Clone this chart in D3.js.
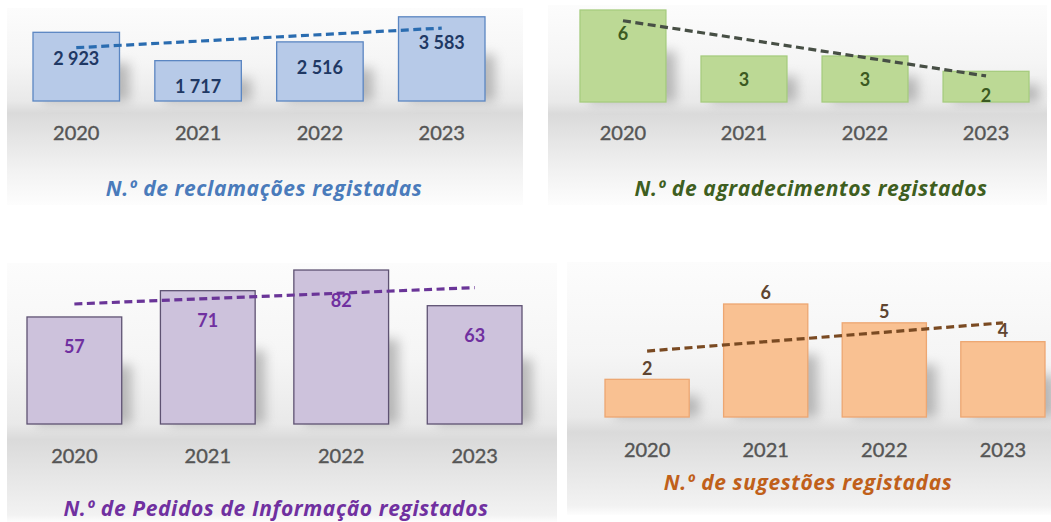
<!DOCTYPE html>
<html>
<head>
<meta charset="utf-8">
<script src="https://cdn.jsdelivr.net/npm/d3@7"></script>
<style>
  body { margin: 0; background: #fff; }
  svg { display: block; font-family: Lato, "Open Sans", sans-serif; }
</style>
</head>
<body>
<div id="chart"></div>
<script>
const years = ["2020", "2021", "2022", "2023"]

const reclamacoes = [2923, 1717, 2516, 3583]
const agradecimentos = [6, 3, 3, 2]
const pedidosInfo = [57, 71, 82, 63]
const sugestoes = [2, 6, 5, 4]

const titles = [
  "N.º de reclamações registadas",
  "N.º de agradecimentos registados",
  "N.º de Pedidos de Informação registados",
  "N.º de sugestões registadas"
]

const width = 1051
const height = 522

const pt = d3.formatLocale({ decimal: ",", thousands: " ", grouping: [3], currency: ["", "€"] }).format(",d")

// layout of each panel (positions only, values come from arrays above)
const panels = [
  { values: reclamacoes, title: titles[0], bg: [7, 8, 516, 197], xr: [33, 485], base: 101, top: 7, yMax: 4000,
    fill: "#b7cae8", stroke: "#5b86c2", label: "#1f3864", trend: "#2a6cb0", titleColor: "#4a7bbb",
    labelOff: 26, yearY: 133, titleX: 264, titleY: 188 },
  { values: agradecimentos, title: titles[1], bg: [548, 5, 499, 200], xr: [580, 1029], base: 102, top: 10, yMax: 6,
    fill: "#bcd995", stroke: "#a6cc7e", label: "#3b5a22", trend: "#474f45", titleColor: "#3e5e20",
    labelOff: 24, yearY: 133, titleX: 811, titleY: 188 },
  { values: pedidosInfo, title: titles[2], bg: [7, 263, 550, 259], xr: [27, 522], base: 424, top: 255, yMax: 90,
    fill: "#cdc2dc", stroke: "#5e5272", label: "#7030a0", trend: "#6a3598", titleColor: "#7030a0",
    labelOff: 30, yearY: 456, titleX: 276, titleY: 508 },
  { values: sugestoes, title: titles[3], bg: [567, 262, 484, 253], xr: [605, 1045], base: 417, top: 304, yMax: 6,
    fill: "#f9c192", stroke: "#eda772", label: "#5f4530", trend: "#7a4a22", titleColor: "#c0601a",
    labelOff: -11, yearY: 450, titleX: 808, titleY: 482 }
]

const svg = d3.select("#chart").append("svg")
  .attr("width", width)
  .attr("height", height)

const defs = svg.append("defs")

const blur = defs.append("filter").attr("id", "shadow")
  .attr("x", "-50%").attr("y", "-50%").attr("width", "200%").attr("height", "200%")
blur.append("feGaussianBlur").attr("stdDeviation", 6)

function regression(vals) {
  const mx = d3.mean(vals, (d, i) => i)
  const my = d3.mean(vals)
  let num = 0, den = 0
  vals.forEach((v, i) => { num += (i - mx) * (v - my); den += (i - mx) * (i - mx) })
  const slope = num / den
  return vals.map((v, i) => my + slope * (i - mx))
}

panels.forEach((p, k) => {
  const g = svg.append("g")

  // background gradient band
  const grad = defs.append("linearGradient").attr("id", "bg" + k)
    .attr("x1", 0).attr("y1", 0).attr("x2", 0).attr("y2", 1)
  const frac = (p.base - p.bg[1]) / p.bg[3]
  const stops = [
    [0, "#fcfcfc"], [frac * 0.6, "#f5f5f5"], [frac, "#e9e9e9"], [frac + 0.06, "#dadada"],
    [frac + 0.2, "#e6e6e6"], [frac + 0.35, "#f2f2f2"], [1, "#fdfdfd"]
  ]
  stops.forEach(s => grad.append("stop").attr("offset", Math.min(1, s[0])).attr("stop-color", s[1]))

  g.append("rect")
    .attr("x", p.bg[0]).attr("y", p.bg[1])
    .attr("width", p.bg[2]).attr("height", p.bg[3])
    .attr("fill", `url(#bg${k})`)

  const x = d3.scaleBand().domain(years).range(p.xr).paddingInner(0.29).paddingOuter(0)
  const y = d3.scaleLinear().domain([0, p.yMax]).range([p.base, p.top])

  const data = years.map((yr, i) => ({ year: yr, value: p.values[i] }))

  // soft shadow to the right of each bar
  g.append("g").selectAll("rect").data(data).join("rect")
    .attr("x", d => x(d.year) + 10)
    .attr("y", d => y(d.value) + (p.base - y(d.value)) * 0.45)
    .attr("width", x.bandwidth())
    .attr("height", d => (p.base - y(d.value)) * 0.55)
    .attr("fill", "#8a8a8a")
    .attr("opacity", 0.55)
    .attr("filter", "url(#shadow)")

  g.append("g").selectAll("rect").data(data).join("rect")
    .attr("x", d => x(d.year))
    .attr("y", d => y(d.value))
    .attr("width", x.bandwidth())
    .attr("height", d => p.base - y(d.value))
    .attr("fill", p.fill)
    .attr("stroke", p.stroke)
    .attr("stroke-width", 1.3)

  // trend line (least squares)
  const fit = regression(p.values)
  const last = years.length - 1
  g.append("line")
    .attr("x1", x(years[0]) + x.bandwidth() / 2)
    .attr("y1", y(fit[0]))
    .attr("x2", x(years[last]) + x.bandwidth() / 2)
    .attr("y2", y(fit[last]))
    .attr("stroke", p.trend)
    .attr("stroke-width", 3.2)
    .attr("stroke-dasharray", "8,4.5")

  g.append("g").selectAll("text").data(data).join("text")
    .attr("x", d => x(d.year) + x.bandwidth() / 2)
    .attr("y", d => y(d.value) + p.labelOff)
    .attr("dy", "0.36em")
    .attr("text-anchor", "middle")
    .attr("font-size", 18)
    .attr("font-weight", 700)
    .attr("fill", p.label)
    .text(d => pt(d.value))

  const axis = d3.axisBottom(x).tickSize(0).tickPadding(0)
  const ax = g.append("g").attr("transform", `translate(0,${p.yearY})`).call(axis)
  ax.select(".domain").remove()
  ax.selectAll("text")
    .attr("dy", "0.36em")
    .attr("font-family", "Lato, sans-serif")
    .attr("font-size", 20)
    .attr("fill", "#555")
    .attr("stroke", "#555")
    .attr("stroke-width", 0.4)

  g.append("text")
    .attr("x", p.titleX)
    .attr("y", p.titleY)
    .attr("dy", "0.36em")
    .attr("text-anchor", "middle")
    .attr("font-family", "'Open Sans', sans-serif")
    .attr("font-size", 21)
    .attr("letter-spacing", 0.6)
    .attr("font-weight", 700)
    .attr("font-style", "italic")
    .attr("fill", p.titleColor)
    .text(p.title)
})
</script>
</body>
</html>
